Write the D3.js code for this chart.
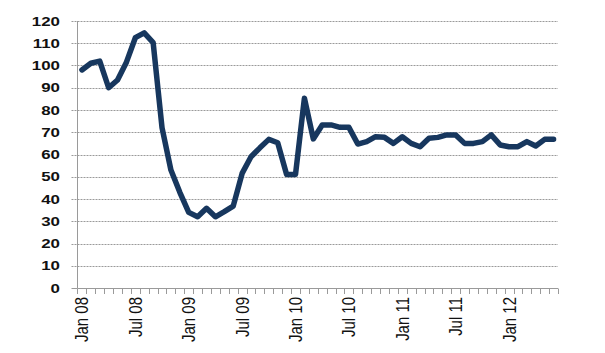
<!DOCTYPE html>
<html>
<head>
<meta charset="utf-8">
<script src="https://cdn.jsdelivr.net/npm/d3@7"></script>
<style>
  html, body { margin: 0; padding: 0; background: #fff; }
  svg { display: block; }
</style>
</head>
<body>
<svg id="chart" width="605" height="353"></svg>
<script>
const months = [
  "Jan 08","Feb 08","Mar 08","Apr 08","May 08","Jun 08","Jul 08","Aug 08","Sep 08","Oct 08","Nov 08","Dec 08",
  "Jan 09","Feb 09","Mar 09","Apr 09","May 09","Jun 09","Jul 09","Aug 09","Sep 09","Oct 09","Nov 09","Dec 09",
  "Jan 10","Feb 10","Mar 10","Apr 10","May 10","Jun 10","Jul 10","Aug 10","Sep 10","Oct 10","Nov 10","Dec 10",
  "Jan 11","Feb 11","Mar 11","Apr 11","May 11","Jun 11","Jul 11","Aug 11","Sep 11","Oct 11","Nov 11","Dec 11",
  "Jan 12","Feb 12","Mar 12","Apr 12","May 12","Jun 12"
];
const values = [
  98, 101, 102, 90, 93.5, 101.5, 112.5, 114.7, 110.3, 72, 53, 43,
  34, 32, 35.8, 32, 34.3, 36.8, 51.5, 59, 63, 66.8, 65.3, 51,
  51, 85.3, 67, 73.3, 73.3, 72.2, 72.2, 64.7, 65.8, 68, 67.7, 65,
  68, 65, 63.5, 67.3, 67.7, 68.8, 68.8, 65, 65, 65.8, 68.8, 64.3,
  63.5, 63.5, 65.8, 63.8, 66.8, 66.8
];
const yTicks = [0, 10, 20, 30, 40, 50, 60, 70, 80, 90, 100, 110, 120];
const xLabels = ["Jan 08","Jul 08","Jan 09","Jul 09","Jan 10","Jul 10","Jan 11","Jul 11","Jan 12"];

const svg = d3.select("#chart");
const pLeft = 77.5, pRight = 558, pTop = 21, pBottom = 288;

const x = d3.scaleBand().domain(months).range([pLeft, pRight]).padding(0);
const y = d3.scaleLinear().domain([0, 120]).range([pBottom, pTop]);
const cx = d => x(d) + x.bandwidth() / 2;

// gridlines
svg.append("g").selectAll("line").data(yTicks.filter(t => t > 0)).join("line")
  .attr("x1", pLeft - 6).attr("x2", pRight)
  .attr("y1", d => Math.round(y(d)) + 0.5).attr("y2", d => Math.round(y(d)) + 0.5)
  .attr("stroke", "#9a9a9a").attr("stroke-width", 1).attr("stroke-dasharray", "2,1");

// y axis line + ticks
svg.append("line").attr("x1", pLeft).attr("x2", pLeft).attr("y1", pTop).attr("y2", pBottom)
  .attr("stroke", "#9a9a9a").attr("stroke-width", 1);
svg.append("line").attr("x1", pLeft - 6).attr("x2", pLeft).attr("y1", Math.round(y(0)) + 0.5).attr("y2", Math.round(y(0)) + 0.5)
  .attr("stroke", "#9a9a9a");

// y labels
svg.append("g").selectAll("text").data(yTicks).join("text")
  .attr("transform", d => `translate(60,${y(d)}) scale(1.3,1)`)
  .attr("dy", "0.36em")
  .attr("text-anchor", "end")
  .attr("font-family", "Liberation Sans, Arial, sans-serif")
  .attr("font-weight", "bold")
  .attr("font-size", 13)
  .attr("fill", "#111")
  .text(d => d);

// x axis line + ticks
svg.append("line").attr("x1", pLeft).attr("x2", pRight).attr("y1", Math.round(y(0)) + 0.5).attr("y2", Math.round(y(0)) + 0.5)
  .attr("stroke", "#9a9a9a");
const boundaries = months.map(m => x(m)).concat([pRight]);
svg.append("g").selectAll("line").data(boundaries).join("line")
  .attr("x1", d => Math.round(d) + 0.5).attr("x2", d => Math.round(d) + 0.5)
  .attr("y1", Math.round(y(0)) + 0.5).attr("y2", Math.round(y(0)) + 6)
  .attr("stroke", "#9a9a9a");

// x labels
svg.append("g").selectAll("text").data(xLabels).join("text")
  .attr("transform", d => `translate(${cx(d)},297) rotate(-90) scale(1,1.2)`)
  .attr("dy", "0.36em")
  .attr("text-anchor", "end")
  .attr("font-family", "Liberation Sans, Arial, sans-serif")
  .attr("font-size", 15)
  .attr("fill", "#111")
  .text(d => d);

// line
const line = d3.line().x((d, i) => cx(months[i])).y(d => y(d));
svg.append("path").datum(values)
  .attr("d", line)
  .attr("fill", "none")
  .attr("stroke", "#17375E")
  .attr("stroke-width", 5.5)
  .attr("stroke-linejoin", "round")
  .attr("stroke-linecap", "round");
</script>
</body>
</html>
